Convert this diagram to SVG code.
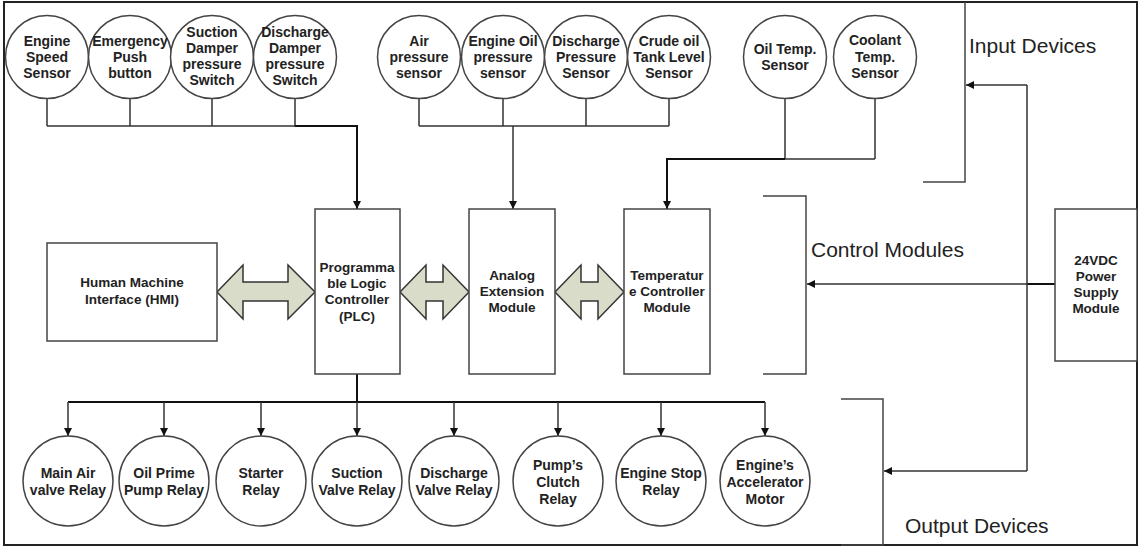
<svg xmlns="http://www.w3.org/2000/svg" width="1140" height="548" viewBox="0 0 1140 548">
  <defs>
    <marker id="arr" viewBox="0 0 10 10" refX="10" refY="5" markerWidth="8" markerHeight="8" markerUnits="userSpaceOnUse" orient="auto">
      <path d="M0,0 L10,5 L0,10 Z" fill="#111"/>
    </marker>
    <style>
      .node circle, .node rect { fill: #fff; stroke: #444; stroke-width: 1.5; }
      .lbl { font-family: "Liberation Sans", Arial, sans-serif; font-weight: bold; font-size: 14px; fill: #222; text-anchor: middle; }
      .blbl { font-family: "Liberation Sans", Arial, sans-serif; font-weight: bold; font-size: 13.5px; fill: #222; text-anchor: middle; }
      .cap { font-family: "Liberation Sans", Arial, sans-serif; font-size: 21px; fill: #222; }
      .wire { fill: none; stroke: #333; stroke-width: 1.5; }
      .heavy { fill: none; stroke: #111; stroke-width: 2; }
      .bracket { fill: none; stroke: #444; stroke-width: 1.5; }
      .fat { fill: #d8dcc8; stroke: #333; stroke-width: 1.5; stroke-linejoin: miter; }
    </style>
  </defs>

  <rect width="1140" height="548" fill="#fff"/>
  <!-- outer frame -->
  <rect x="4" y="2" width="1133" height="543" fill="none" stroke="#222" stroke-width="2"/>

  <!-- connectors -->
  <g id="connectors">
    <!-- switches / sensors to PLC -->
    <path class="wire" d="M47,99 V126 M130,99 V126 M212,99 V126 M295,99 V126 M47,126 H295"/>
    <path class="heavy" d="M295,126 H357 V209" marker-end="url(#arr)"/>
    <!-- pressure sensors to analog module -->
    <path class="wire" d="M419,99 V126 M503,99 V126 M586,99 V126 M669,99 V126 M419,126 H669"/>
    <path class="wire" d="M513,126 V209" marker-end="url(#arr)"/>
    <!-- temperature sensors to temperature controller -->
    <path class="wire" d="M785,99 V159 M875,99 V159 M875,159 H785"/>
    <path class="heavy" d="M785,159 H667 V209" marker-end="url(#arr)"/>
    <!-- PLC outputs -->
    <path class="heavy" d="M357,374 V402 M68,402 H765"/>
    <path class="wire" d="M68,402 V436" marker-end="url(#arr)"/>
    <path class="wire" d="M164,402 V436" marker-end="url(#arr)"/>
    <path class="wire" d="M261,402 V436" marker-end="url(#arr)"/>
    <path class="wire" d="M357,402 V436" marker-end="url(#arr)"/>
    <path class="wire" d="M454,402 V436" marker-end="url(#arr)"/>
    <path class="wire" d="M558,402 V436" marker-end="url(#arr)"/>
    <path class="wire" d="M661,402 V436" marker-end="url(#arr)"/>
    <path class="wire" d="M765,402 V436" marker-end="url(#arr)"/>
    <!-- 24VDC distribution -->
    <path class="heavy" d="M1055,284 H1027"/>
    <path class="wire" d="M1027,284 H807" marker-end="url(#arr)"/>
    <path class="wire" d="M1027,85 V471"/>
    <path class="wire" d="M1027,85 H966" marker-end="url(#arr)"/>
    <path class="wire" d="M1027,471 H884" marker-end="url(#arr)"/>
    <!-- bidirectional data links -->
    <path class="fat" d="M217,292 L243,265 V282 H288 V265 L315,292 L288,319 V301 H243 V319 Z"/>
    <path class="fat" d="M400,292 L426,265 V282 H443 V265 L469,292 L443,319 V301 H426 V319 Z"/>
    <path class="fat" d="M555,292 L581,265 V282 H598 V265 L624,292 L598,319 V301 H581 V319 Z"/>
  </g>

  <!-- group brackets -->
  <g id="brackets">
    <path class="bracket" d="M965,2 V182 H923"/>
    <path class="bracket" d="M763,196 H806 V374 H763"/>
    <path class="bracket" d="M841,399 H883 V545 H841"/>
    <text class="cap" x="969" y="53">Input Devices</text>
    <text class="cap" x="811" y="257">Control Modules</text>
    <text class="cap" x="905" y="533">Output Devices</text>
  </g>

  <!-- input devices -->
  <g id="engine-speed-sensor" class="node"><circle cx="47" cy="57" r="41.5"/>
    <text class="lbl" x="47" y="46">Engine</text><text class="lbl" x="47" y="62">Speed</text><text class="lbl" x="47" y="78">Sensor</text></g>
  <g id="emergency-push-button" class="node"><circle cx="130" cy="57" r="41.5"/>
    <text class="lbl" x="130" y="46">Emergency</text><text class="lbl" x="130" y="62">Push</text><text class="lbl" x="130" y="78">button</text></g>
  <g id="suction-damper-switch" class="node"><circle cx="212" cy="57" r="41.5"/>
    <text class="lbl" x="212" y="37">Suction</text><text class="lbl" x="212" y="53">Damper</text><text class="lbl" x="212" y="69">pressure</text><text class="lbl" x="212" y="85">Switch</text></g>
  <g id="discharge-damper-switch" class="node"><circle cx="295" cy="57" r="41.5"/>
    <text class="lbl" x="295" y="37">Discharge</text><text class="lbl" x="295" y="53">Damper</text><text class="lbl" x="295" y="69">pressure</text><text class="lbl" x="295" y="85">Switch</text></g>

  <g id="air-pressure-sensor" class="node"><circle cx="419" cy="57" r="41.5"/>
    <text class="lbl" x="419" y="46">Air</text><text class="lbl" x="419" y="62">pressure</text><text class="lbl" x="419" y="78">sensor</text></g>
  <g id="engine-oil-pressure-sensor" class="node"><circle cx="503" cy="57" r="41.5"/>
    <text class="lbl" x="503" y="46">Engine Oil</text><text class="lbl" x="503" y="62">pressure</text><text class="lbl" x="503" y="78">sensor</text></g>
  <g id="discharge-pressure-sensor" class="node"><circle cx="586" cy="57" r="41.5"/>
    <text class="lbl" x="586" y="46">Discharge</text><text class="lbl" x="586" y="62">Pressure</text><text class="lbl" x="586" y="78">Sensor</text></g>
  <g id="crude-oil-level-sensor" class="node"><circle cx="669" cy="57" r="41.5"/>
    <text class="lbl" x="669" y="46">Crude oil</text><text class="lbl" x="669" y="62">Tank Level</text><text class="lbl" x="669" y="78">Sensor</text></g>

  <g id="oil-temp-sensor" class="node"><circle cx="785" cy="57" r="41.5"/>
    <text class="lbl" x="785" y="54">Oil Temp.</text><text class="lbl" x="785" y="70">Sensor</text></g>
  <g id="coolant-temp-sensor" class="node"><circle cx="875" cy="57" r="41.5"/>
    <text class="lbl" x="875" y="45">Coolant</text><text class="lbl" x="875" y="62">Temp.</text><text class="lbl" x="875" y="78">Sensor</text></g>

  <!-- control modules -->
  <g id="hmi" class="node"><rect x="47" y="243" width="170" height="98"/>
    <text class="blbl" x="132" y="287">Human Machine</text><text class="blbl" x="132" y="304">Interface (HMI)</text></g>
  <g id="plc" class="node"><rect x="315" y="209" width="85" height="165"/>
    <text class="blbl" x="357" y="272">Programma</text><text class="blbl" x="357" y="288">ble Logic</text><text class="blbl" x="357" y="304">Controller</text><text class="blbl" x="357" y="321">(PLC)</text></g>
  <g id="analog-extension" class="node"><rect x="469" y="209" width="86" height="165"/>
    <text class="blbl" x="512" y="280">Analog</text><text class="blbl" x="512" y="296">Extension</text><text class="blbl" x="512" y="312">Module</text></g>
  <g id="temperature-controller" class="node"><rect x="624" y="209" width="86" height="165"/>
    <text class="blbl" x="667" y="280">Temperatur</text><text class="blbl" x="667" y="296">e Controller</text><text class="blbl" x="667" y="312">Module</text></g>
  <g id="power-supply" class="node"><rect x="1055" y="209" width="82" height="152"/>
    <text class="blbl" x="1096" y="265">24VDC</text><text class="blbl" x="1096" y="281">Power</text><text class="blbl" x="1096" y="297">Supply</text><text class="blbl" x="1096" y="313">Module</text></g>

  <!-- output devices -->
  <g id="main-air-valve-relay" class="node"><circle cx="68" cy="481" r="45"/>
    <text class="lbl" x="68" y="478">Main Air</text><text class="lbl" x="68" y="495">valve Relay</text></g>
  <g id="oil-prime-pump-relay" class="node"><circle cx="164" cy="481" r="45"/>
    <text class="lbl" x="164" y="478">Oil Prime</text><text class="lbl" x="164" y="495">Pump Relay</text></g>
  <g id="starter-relay" class="node"><circle cx="261" cy="481" r="45"/>
    <text class="lbl" x="261" y="478">Starter</text><text class="lbl" x="261" y="495">Relay</text></g>
  <g id="suction-valve-relay" class="node"><circle cx="357" cy="481" r="45"/>
    <text class="lbl" x="357" y="478">Suction</text><text class="lbl" x="357" y="495">Valve Relay</text></g>
  <g id="discharge-valve-relay" class="node"><circle cx="454" cy="481" r="45"/>
    <text class="lbl" x="454" y="478">Discharge</text><text class="lbl" x="454" y="495">Valve Relay</text></g>
  <g id="pump-clutch-relay" class="node"><circle cx="558" cy="481" r="45"/>
    <text class="lbl" x="558" y="470">Pump’s</text><text class="lbl" x="558" y="487">Clutch</text><text class="lbl" x="558" y="504">Relay</text></g>
  <g id="engine-stop-relay" class="node"><circle cx="661" cy="481" r="45"/>
    <text class="lbl" x="661" y="478">Engine Stop</text><text class="lbl" x="661" y="495">Relay</text></g>
  <g id="accelerator-motor" class="node"><circle cx="765" cy="481" r="45"/>
    <text class="lbl" x="765" y="470">Engine’s</text><text class="lbl" x="765" y="487">Accelerator</text><text class="lbl" x="765" y="504">Motor</text></g>
</svg>
